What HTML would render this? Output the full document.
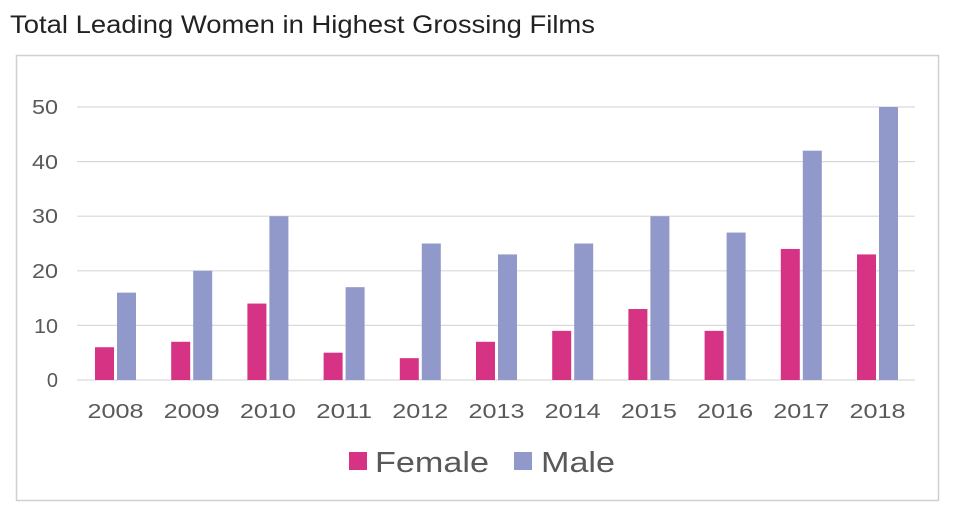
<!DOCTYPE html>
<html><head><meta charset="utf-8"><style>
body{margin:0;background:#fff;width:980px;height:524px;overflow:hidden;font-family:"Liberation Sans",sans-serif}
</style></head><body>
<svg width="980" height="524" xmlns="http://www.w3.org/2000/svg" font-family="Liberation Sans, sans-serif">
<text x="10" y="33" font-size="25" fill="#222" textLength="585" lengthAdjust="spacingAndGlyphs">Total Leading Women in Highest Grossing Films</text>
<rect x="16.5" y="55.5" width="922" height="445" fill="#fff" stroke="#d0d0d0" stroke-width="1.5"/>
<g stroke="#d9d9d9" stroke-width="1.2">
<line x1="77" x2="915" y1="107" y2="107"/><line x1="77" x2="915" y1="161.6" y2="161.6"/>
<line x1="77" x2="915" y1="216.2" y2="216.2"/><line x1="77" x2="915" y1="270.8" y2="270.8"/>
<line x1="77" x2="915" y1="325.4" y2="325.4"/><line x1="77" x2="915" y1="380" y2="380"/>
</g>
<g font-size="20" fill="#595959" text-anchor="end">
<text x="58" y="114" textLength="26" lengthAdjust="spacingAndGlyphs">50</text><text x="58" y="169" textLength="26" lengthAdjust="spacingAndGlyphs">40</text><text x="58" y="223" textLength="26" lengthAdjust="spacingAndGlyphs">30</text>
<text x="58" y="278" textLength="26" lengthAdjust="spacingAndGlyphs">20</text><text x="58" y="333" textLength="24" lengthAdjust="spacingAndGlyphs">10</text><text x="58" y="387">0</text>
</g>
<g id="bars"></g>
<g font-size="20" fill="#595959" text-anchor="middle" id="xl"></g>
<rect x="349" y="452" width="18" height="18" fill="#d63384"/>
<text x="375" y="472" font-size="29" fill="#595959" textLength="114" lengthAdjust="spacingAndGlyphs">Female</text>
<rect x="514" y="452" width="18" height="18" fill="#9099c9"/>
<text x="541" y="472" font-size="29" fill="#595959" textLength="74" lengthAdjust="spacingAndGlyphs">Male</text>
<script>
var F=[6,7,14,5,4,7,9,13,9,24,23],M=[16,20,30,17,25,23,25,30,27,42,50];
var b=document.getElementById('bars'),xl=document.getElementById('xl'),ns='http://www.w3.org/2000/svg';
for(var i=0;i<11;i++){var c=115.5+i*76.2;
[[F[i],c-20.5,'#d63384'],[M[i],c+1.5,'#9099c9']].forEach(function(d){var r=document.createElementNS(ns,'rect');var h=d[0]*5.46;
r.setAttribute('x',d[1]);r.setAttribute('width',19);r.setAttribute('y',380-h);r.setAttribute('height',h);r.setAttribute('fill',d[2]);b.appendChild(r);});
var t=document.createElementNS(ns,'text');t.setAttribute('x',c);t.setAttribute('y',418);t.setAttribute('textLength',56);t.setAttribute('lengthAdjust','spacingAndGlyphs');t.textContent=2008+i;xl.appendChild(t);}
</script>
</svg>
</body></html>
